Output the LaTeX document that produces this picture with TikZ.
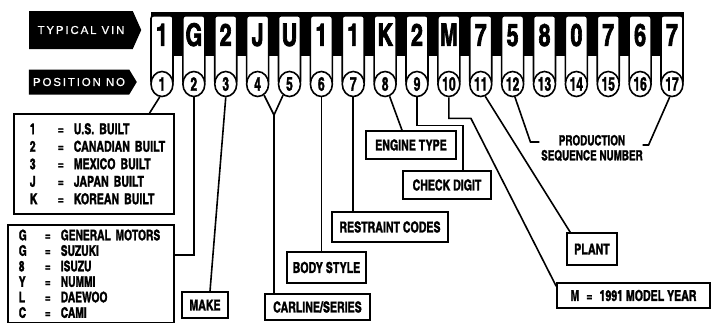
\documentclass[tikz,border=0pt]{standalone}
\usepackage{fontspec}
\setmainfont{TeX Gyre Heros}
\newfontfamily\vinfont[Extension=.otf,FakeStretch=0.86,FakeBold=1.6]{texgyreheroscn-bold}
\newfontfamily\keyfont[Extension=.otf,FakeStretch=0.85,FakeBold=2]{texgyreheroscn-bold}
\newfontfamily\posfont[Extension=.otf,FakeStretch=0.78,FakeBold=1.5]{texgyreheroscn-bold}
\newfontfamily\tagfont[LetterSpace=16,FakeBold=0.8]{Liberation Sans}
\usetikzlibrary{shapes.geometric,shapes.symbols}

\newcommand\coderow[3]{\mbox{\makebox[#1][l]{#2}\makebox[26pt]{=}#3}}

\begin{document}
\begin{tikzpicture}[x=1pt, y=-1pt, line width=1.6pt,
  head/.style={shape=signal, signal to=east, fill=black, text=white, inner sep=0pt,
               font=\tagfont\fontsize{11.5}{12}\selectfont},
  key/.style={draw, fill=white, rounded corners=2.5pt, anchor=north, inner sep=0pt,
              minimum width=22pt, text height=30pt, text depth=38pt,
              font=\keyfont\fontsize{31}{31}\selectfont},
  posmark/.style={draw, fill=white, ellipse, inner sep=0pt, minimum width=22pt,
                  minimum height=25pt, font=\posfont\fontsize{19}{19}\selectfont},
  tag/.style={draw, fill=white, inner sep=0pt, font=\vinfont\fontsize{15}{15}\selectfont},
  listbox/.style={draw, fill=white, inner ysep=0pt, align=left,
                  font=\vinfont\fontsize{15}{17.5}\selectfont},
  link/.style={draw=black, line width=1.6pt}]
  \useasboundingbox (0,0) rectangle (711,322);
  % heading arrows
  \node[head, signal pointer angle=132, minimum width=112pt, minimum height=38pt] (vinhead) at (81,30) {TYPICAL VIN\hspace{5pt}};
  \node[head, signal pointer angle=118, minimum width=108pt, minimum height=25pt] (poshead) at (79,82) {POSITION NO\hspace{2pt}};
  % VIN strip
  \fill (151,12) rectangle (684,56);
  \foreach \ch [count=\i] in {1,G,2,J,U,1,1,K,2,M,7,5,8,0,7,6,7} {
    \node[key] (key\i) at ({162+31.875*(\i-1)},15) {\ch};
    \node[posmark] (pos\i) at ({162+31.875*(\i-1)},84) {\i};
  }
  % meaning boxes
  \node[listbox, anchor=north west, inner xsep=16pt, text width=128pt, minimum height=100pt] (country) at (13,113)
    {\coderow{18pt}{1}{U.S. BUILT}\\ \coderow{18pt}{2}{CANADIAN BUILT}\\ \coderow{18pt}{3}{MEXICO BUILT}\\
     \coderow{18pt}{J}{JAPAN BUILT}\\ \coderow{18pt}{K}{KOREAN BUILT}};
  \node[listbox, anchor=north west, inner xsep=11pt, text width=144pt, minimum height=98pt,
        font=\vinfont\fontsize{14.5}{15.5}\selectfont] (maker) at (7,224)
    {\coderow{16pt}{G}{GENERAL MOTORS}\\ \coderow{16pt}{G}{SUZUKI}\\ \coderow{16pt}{8}{ISUZU}\\
     \coderow{16pt}{Y}{NUMMI}\\ \coderow{16pt}{L}{DAEWOO}\\ \coderow{16pt}{C}{CAMI}};
  \node[tag, minimum width=46pt, minimum height=26pt] (make) at (205,305) {MAKE};
  \node[tag, minimum width=105pt, minimum height=26pt] (carline) at (317.5,307) {CARLINE/SERIES};
  \node[tag, minimum width=79pt, minimum height=31pt] (body) at (326.5,267.5) {BODY STYLE};
  \node[tag, minimum width=116pt, minimum height=30pt] (restraint) at (390,227) {RESTRAINT CODES};
  \node[tag, minimum width=90pt, minimum height=28pt] (engine) at (411,145) {ENGINE TYPE};
  \node[tag, minimum width=88pt, minimum height=28pt] (check) at (447,185) {CHECK DIGIT};
  \node[tag, minimum width=50pt, minimum height=32pt] (plant) at (592,249) {PLANT};
  \node[tag, minimum width=153pt, minimum height=25pt] (year) at (633.5,295.5) {M\hspace{7pt}=\hspace{7pt}1991 MODEL YEAR};
  \node[inner sep=0pt, align=center, font=\vinfont\fontsize{14}{15}\selectfont] (seq) at (592,148) {PRODUCTION\\SEQUENCE NUMBER};
  % connectors
  \draw[link] (pos1.-100) -- ([shift={(-25,0)}]country.north east);
  \draw[link] (pos2.south) |- ([shift={(0,31)}]maker.north east);
  \draw[link] (pos3.south) -- ([shift={(5,0)}]make.north);
  \coordinate (fork) at (274,115);
  \draw[link] (pos4.-60) -- (fork) -- (pos5.-120);
  \draw[link] (fork) -- (fork |- carline.north);
  \draw[link] (pos6.south) -- (pos6.south |- body.north);
  \draw[link] (pos7.south) -- (pos7.south |- restraint.north);
  \draw[link] (pos8.-70) -- ([shift={(-9,0)}]engine.north);
  \draw[link] (pos9.south) -- ++(0,28) -| ([shift={(16,0)}]check.north);
  \draw[link] (pos10.south) -- ++(0,21) -- ++(22,0) -- ([shift={(0,4)}]year.north west);
  \draw[link] (pos11.-70) -- ([shift={(4,0)}]plant.north west);
  \draw[link] (pos12.-80) -- ([shift={(-10,-6)}]seq.west) -- ([shift={(-1,-6)}]seq.west);
  \draw[link] (pos17.-100) -- ([shift={(5,-3)}]seq.east) -- ([shift={(-1,-3)}]seq.east);
\end{tikzpicture}
\end{document}
